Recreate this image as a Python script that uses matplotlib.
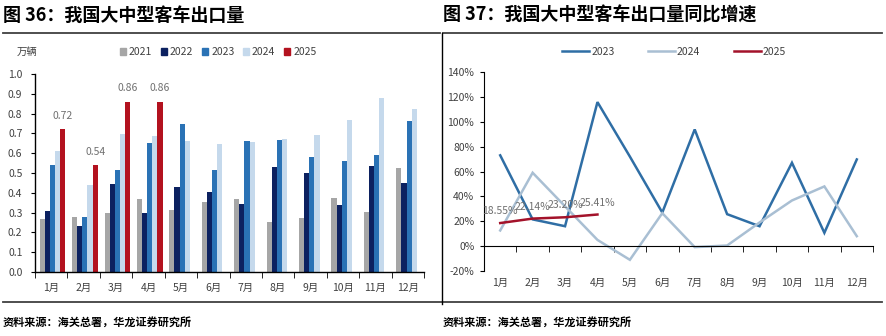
import numpy as np
import matplotlib
matplotlib.use('Agg')
import matplotlib.pyplot as plt
from matplotlib.lines import Line2D
from matplotlib.patches import Rectangle

plt.rcParams['font.family'] = ['Noto Sans CJK SC', 'DejaVu Sans']
plt.rcParams['axes.unicode_minus'] = False

months = ['1月', '2月', '3月', '4月', '5月', '6月', '7月', '8月', '9月', '10月', '11月', '12月']

# export volume, 10k units
years = ['2021', '2022', '2023', '2024', '2025']
vol_2021 = [0.27, 0.28, 0.30, 0.37, 0.315, 0.355, 0.367, 0.251, 0.273, 0.372, 0.303, 0.524]
vol_2022 = [0.31, 0.23, 0.445, 0.30, 0.43, 0.405, 0.342, 0.532, 0.498, 0.337, 0.535, 0.451]
vol_2023 = [0.54, 0.28, 0.515, 0.653, 0.747, 0.516, 0.663, 0.668, 0.579, 0.562, 0.593, 0.764]
vol_2024 = [0.61, 0.44, 0.695, 0.688, 0.66, 0.645, 0.655, 0.672, 0.692, 0.768, 0.879, 0.825]
vol_2025 = [0.72, 0.54, 0.86, 0.86]
volumes = [vol_2021, vol_2022, vol_2023, vol_2024, vol_2025]

# year-over-year growth, %
yoy_years = ['2023', '2024', '2025']
yoy_2023 = [73.0, 21.5, 16.0, 115.8, 72.0, 27.0, 93.8, 25.7, 16.0, 67.0, 10.7, 69.7]
yoy_2024 = [12.6, 59.0, 32.0, 5.0, -11.0, 26.5, -0.8, 0.5, 19.0, 36.7, 48.0, 8.0]
yoy_2025 = [18.55, 22.14, 23.20, 25.41]
yoys = [yoy_2023, yoy_2024, yoy_2025]

bar_colors = ['#a6a6a6', '#0c2160', '#2a72b5', '#c5d9ec', '#b3121f']
line_colors = ['#2f6ea5', '#a9bfd3', '#a3122a']
tick_color = '#404040'

fig = plt.figure(figsize=(8.86, 3.36), dpi=100)

# ---------------- left panel: bars ----------------
ax1 = fig.add_axes([35 / 886, 64 / 336, 389 / 886, 198 / 336])
x = np.arange(len(months))
w = 0.158
for i, vals in enumerate(volumes):
    xi = x[:len(vals)] + (i - 2) * w + 0.04
    ax1.bar(xi, vals, width=w, color=bar_colors[i], linewidth=0)
    if years[i] == '2025':
        for xx, v in zip(xi, vals):
            ax1.annotate(f'{v:.2f}', (xx, v), xytext=(0, 6), textcoords='offset points',
                         ha='center', va='bottom', fontsize=7.5, color='#707070')

ax1.set_xlim(-0.5, 11.5)
ax1.set_ylim(0, 1.0)
ax1.set_yticks(np.arange(0, 1.01, 0.1))
ax1.set_yticklabels([f'{v:.1f}' for v in np.arange(0, 1.01, 0.1)])
ax1.set_xticks(x)
ax1.set_xticklabels(months)
ax1.set_xticks(np.arange(-0.5, 12, 1), minor=True)
ax1.tick_params(axis='x', which='major', length=0, pad=8, labelsize=7.5, colors=tick_color)
ax1.tick_params(axis='x', which='minor', length=4, direction='out', color='black')
ax1.tick_params(axis='y', length=3, direction='out', labelsize=7.5, colors=tick_color, pad=6)
ax1.tick_params(axis='y', color='black')
for s in ['top', 'right']:
    ax1.spines[s].set_visible(False)
for s in ['left', 'bottom']:
    ax1.spines[s].set_linewidth(1.0)

fig.text(27 / 886, 1 - 52 / 336, '万辆', ha='center', va='center', fontsize=7.5, color=tick_color)
bar_handles = [Rectangle((0, 0), 1, 1, color=c) for c in bar_colors]
fig.legend(bar_handles, years, loc='center', bbox_to_anchor=(218 / 886, 1 - 52 / 336),
           ncol=5, frameon=False, fontsize=7.5, handlelength=0.6, handleheight=0.6,
           handletextpad=0.3, columnspacing=0.8, labelcolor=tick_color)

# ---------------- right panel: yoy lines ----------------
ax2 = fig.add_axes([484 / 886, 65 / 336, 389 / 886, 199 / 336])
for vals, c in zip(yoys, line_colors):
    ax2.plot(x[:len(vals)], vals, color=c, lw=1.8, solid_joinstyle='miter')
for xx, v in zip(x, yoy_2025):
    ax2.annotate(f'{v:.2f}%', (xx, v), xytext=(0, 5), textcoords='offset points',
                 ha='center', va='bottom', fontsize=7.5, color='#707070')

ax2.set_xlim(-0.5, 11.5)
ax2.set_ylim(-20, 140)
ax2.set_yticks(np.arange(-20, 141, 20))
ax2.set_yticklabels([f'{v}%' for v in range(-20, 141, 20)])
ax2.spines['bottom'].set_position(('data', 0))
ax2.set_xticks(x)
ax2.set_xticklabels(months)
ax2.set_xticks(np.arange(-0.5, 12, 1), minor=True)
ax2.tick_params(axis='x', which='major', length=0, pad=23, labelsize=7.5, colors=tick_color)
ax2.tick_params(axis='x', which='minor', length=4, direction='out', color='black')
ax2.tick_params(axis='y', length=3, direction='out', labelsize=7.5, colors=tick_color, pad=4)
ax2.tick_params(axis='y', color='black')
for s in ['top', 'right']:
    ax2.spines[s].set_visible(False)

line_handles = [Line2D([0], [0], color=c, lw=1.8) for c in line_colors]
fig.legend(line_handles, yoy_years, loc='center', bbox_to_anchor=(674 / 886, 1 - 52 / 336),
           ncol=3, frameon=False, fontsize=7.5, handlelength=2.6, handletextpad=0.2,
           columnspacing=3.2, labelcolor=tick_color)

# ---------------- titles, rules and sources ----------------
fig.text(3 / 886, 1 - 15 / 336, '图 36：我国大中型客车出口量', ha='left', va='center',
         fontsize=13, fontweight='bold')
fig.text(443 / 886, 1 - 15 / 336, '图 37：我国大中型客车出口量同比增速', ha='left', va='center',
         fontsize=13, fontweight='bold')
rule = dict(color='#404040', lw=1.3, transform=fig.transFigure)
fig.add_artist(Line2D([3 / 886, 440 / 886], [1 - 33 / 336, 1 - 33 / 336], **rule))
fig.add_artist(Line2D([443 / 886, 882 / 886], [1 - 33 / 336, 1 - 33 / 336], **rule))
fig.add_artist(Line2D([3 / 886, 882 / 886], [1 - 302 / 336, 1 - 302 / 336], **rule))
fig.add_artist(Line2D([442 / 886, 442 / 886], [1 - 33 / 336, 1 - 304 / 336],
                      color='black', lw=1.0, transform=fig.transFigure))
fig.text(3 / 886, 1 - 322 / 336, '资料来源：海关总署，华龙证券研究所', ha='left', va='center',
         fontsize=8, fontweight='bold')
fig.text(443 / 886, 1 - 322 / 336, '资料来源：海关总署，华龙证券研究所', ha='left', va='center',
         fontsize=8, fontweight='bold')

fig.savefig('out.png', dpi=100)
